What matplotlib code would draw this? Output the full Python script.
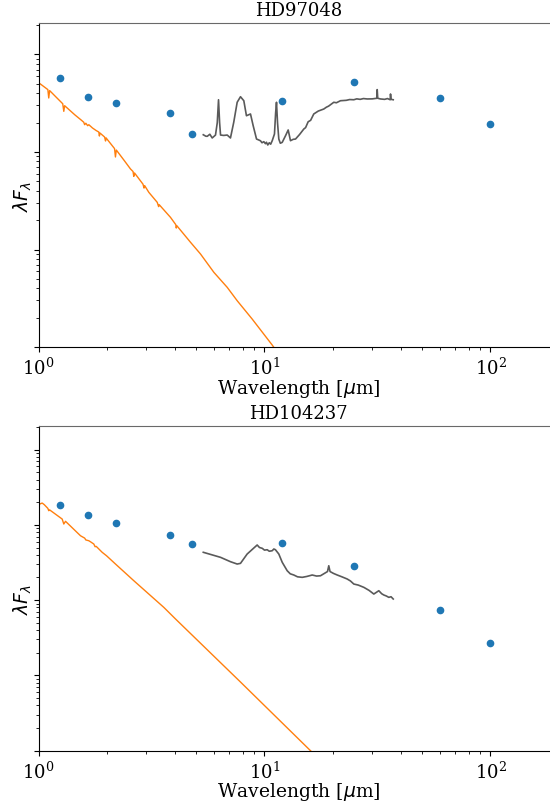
import numpy as np
import matplotlib
matplotlib.use("Agg")
from matplotlib import pyplot as plt
from matplotlib.ticker import NullFormatter

plt.rcParams['font.family'] = 'serif'
plt.rcParams['font.size'] = 13

# photometry wavelengths (um): J H K L M IRAS12 IRAS25 IRAS60 IRAS100
phot_wl = [1.25, 1.65, 2.2, 3.8, 4.8, 12.0, 25.0, 60.0, 100.0]

# HD97048 -- log10(lambda F_lambda)
hd97_phot = [-9.241, -9.433, -9.494, -9.597, -9.813, -9.474, -9.285, -9.446, -9.713]
hd97_irs_wl = [5.36, 5.50, 5.58, 5.73, 5.87, 6.07, 6.18, 6.26, 6.33, 6.39, 6.60, 6.84,
               7.07, 7.31, 7.57, 7.83, 8.10, 8.32, 8.67, 8.91, 9.22, 9.40, 9.60, 9.75,
               9.93, 10.1, 10.2, 10.34, 10.5, 10.65, 10.82, 11.07, 11.20, 11.30, 11.42,
               11.57, 11.75, 11.98, 12.39, 12.73, 13.03, 13.4, 13.72, 14.3, 14.93, 15.2,
               15.6, 16.0, 16.52, 17.3, 18.30, 18.8, 19.2, 20.26, 20.8, 21.69, 23.0, 23.8,
               24.84, 25.6, 26.5, 27.4, 28.48, 30.0, 31.4, 31.53, 31.7, 32.61, 34.0, 35.0,
               36.0, 36.11, 36.3, 37.12]
hd97_irs = [-9.823, -9.838, -9.839, -9.818, -9.856, -9.826, -9.70, -9.464, -9.70, -9.826,
            -9.830, -9.826, -9.856, -9.695, -9.490, -9.433, -9.474, -9.628, -9.610, -9.730,
            -9.867, -9.875, -9.885, -9.905, -9.894, -9.915, -9.900, -9.928, -9.905, -9.920,
            -9.884, -9.815, -9.60, -9.490, -9.70, -9.867, -9.91, -9.901, -9.833, -9.774,
            -9.884, -9.87, -9.867, -9.82, -9.764, -9.75, -9.69, -9.675, -9.610, -9.58,
            -9.559, -9.54, -9.53, -9.490, -9.495, -9.474, -9.47, -9.462, -9.464, -9.455,
            -9.46, -9.452, -9.456, -9.455, -9.449, -9.36, -9.449, -9.456, -9.46, -9.452,
            -9.464, -9.405, -9.46, -9.464]
hd97_star_wl = [1.00, 1.02, 1.10, 1.11, 1.12, 1.20, 1.28, 1.294, 1.305, 1.45, 1.55, 1.586,
                1.60, 1.62, 1.65, 1.67, 1.734, 1.80, 1.848, 1.86, 1.87, 1.96, 1.98, 1.99,
                2.17, 2.19, 2.21, 2.40, 2.553, 2.62, 2.64, 2.66, 2.90, 2.93, 2.95, 3.076,
                3.352, 3.40, 3.42, 3.837, 4.05, 4.07, 4.09, 4.706, 5.21, 5.97, 6.84, 7.57,
                8.82, 10.82, 11.6]
hd97_star = [-9.29, -9.303, -9.36, -9.446, -9.37, -9.44, -9.505, -9.583, -9.525, -9.62,
             -9.675, -9.695, -9.72, -9.705, -9.73, -9.72, -9.754, -9.78, -9.795, -9.836,
             -9.805, -9.846, -9.887, -9.855, -9.965, -10.051, -9.98, -10.09, -10.174,
             -10.20, -10.25, -10.215, -10.33, -10.37, -10.345, -10.413, -10.516, -10.56,
             -10.54, -10.670, -10.745, -10.78, -10.755, -10.926, -11.046, -11.234, -11.388,
             -11.525, -11.713, -11.98, -12.08]

# HD104237
hd104_phot = [-8.731, -8.864, -8.971, -9.138, -9.258, -9.241, -9.551, -10.132, -10.574]
hd104_irs_wl = [5.36, 6.39, 7.07, 7.57, 7.83, 8.38, 9.28, 9.5, 9.77, 10.0, 10.28, 10.5,
                10.82, 11.0, 11.18, 11.57, 11.98, 12.60, 13.0, 13.48, 14.0, 14.69, 15.4,
                16.26, 17.0, 17.69, 19.0, 19.25, 19.5, 20.2, 20.98, 22.0, 23.22, 24.0,
                24.84, 26.0, 27.51, 29.0, 30.46, 32.05, 33.0, 33.73, 34.6, 35.48, 36.3,
                37.12]
hd104_irs = [-9.364, -9.431, -9.489, -9.520, -9.511, -9.387, -9.267, -9.300, -9.311,
             -9.335, -9.330, -9.350, -9.343, -9.320, -9.330, -9.387, -9.497, -9.609,
             -9.650, -9.666, -9.690, -9.697, -9.685, -9.666, -9.680, -9.676, -9.620,
             -9.543, -9.620, -9.645, -9.666, -9.690, -9.719, -9.745, -9.786, -9.800,
             -9.830, -9.870, -9.919, -9.875, -9.915, -9.932, -9.945, -9.963, -9.955,
             -9.985]
hd104_star_wl = [1.00, 1.038, 1.06, 1.10, 1.11, 1.12, 1.273, 1.294, 1.317, 1.534, 1.60,
                 1.62, 1.669, 1.70, 1.757, 1.78, 1.80, 1.913, 2.0, 2.191, 2.641, 3.584,
                 4.04, 7.83, 15.95, 17.0]
hd104_star = [-8.73, -8.709, -8.73, -8.78, -8.811, -8.80, -8.922, -8.988, -8.952, -9.144,
              -9.175, -9.20, -9.210, -9.225, -9.254, -9.29, -9.285, -9.364, -9.41, -9.520,
              -9.742, -10.096, -10.251, -11.089, -12.0, -12.08]

panels = [
    ("HD97048", hd97_phot, hd97_irs_wl, hd97_irs, hd97_star_wl, hd97_star, (1e-12, 10**-8.682)),
    ("HD104237", hd104_phot, hd104_irs_wl, hd104_irs, hd104_star_wl, hd104_star, (1e-12, 10**-7.685)),
]
# axes boxes in figure fraction (right edge runs past the figure, as in the original crop)
boxes = [[0.07, 0.5666, 0.9455, 0.4029], [0.07, 0.0641, 0.9455, 0.4041]]

fig = plt.figure(figsize=(5.5, 8.03), dpi=100)
for (name, phot, irs_wl, irs, star_wl, star, ylim), box in zip(panels, boxes):
    ax = fig.add_axes(box)
    ax.plot(star_wl, 10**np.array(star), color='C1', lw=1.0)
    ax.plot(irs_wl, 10**np.array(irs), color='#5a5a5a', lw=1.2)
    ax.plot(phot_wl, 10**np.array(phot), 'o', color='C0', ms=4.5)
    ax.set_xscale('log')
    ax.set_yscale('log')
    ax.set_xlim(1, 200)
    ax.set_ylim(*ylim)
    ax.yaxis.set_major_formatter(NullFormatter())
    ax.yaxis.set_minor_formatter(NullFormatter())
    ax.spines['top'].set_color('dimgray')
    ax.set_title(name, fontsize=13)
    ax.set_xlabel(r'Wavelength [$\mu$m]', fontsize=13.5, labelpad=-1)
    ax.set_ylabel(r'$\lambda F_\lambda$', fontsize=13.5)
    ax.yaxis.set_label_coords(-0.008, 0.47)

fig.savefig('out.png', dpi=100)
